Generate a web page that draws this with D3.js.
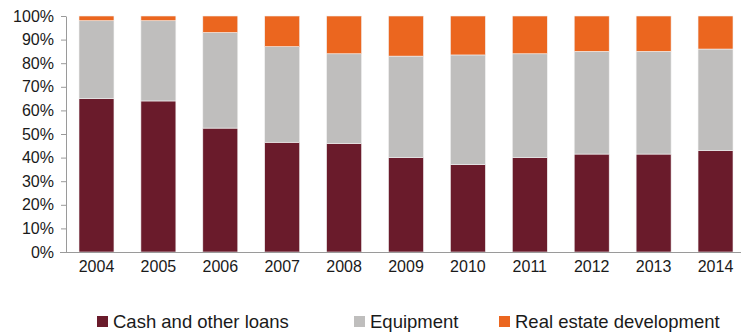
<!DOCTYPE html>
<html><head><meta charset="utf-8">
<script src="https://cdn.jsdelivr.net/npm/d3@7/dist/d3.min.js"></script>
<style>body{margin:0;background:#fff;} text{font-family:"Liberation Sans",Arial,sans-serif;fill:#1a1a1a;}</style>
</head><body><svg id="c" width="741" height="335"></svg>
<script>
const years = ["2004","2005","2006","2007","2008","2009","2010","2011","2012","2013","2014"];
const cash = [65, 64, 52.5, 46.5, 46, 40, 37, 40, 41.5, 41.5, 43];
const equipment = [33, 34, 40.5, 40.5, 38, 43, 46.5, 44, 43.5, 43.5, 43];
const realEstate = [2, 2, 7, 13, 16, 17, 16.5, 16, 15, 15, 14];
const seriesNames = ["Cash and other loans", "Equipment", "Real estate development"];
const colors = ["#6A1B2B", "#BFBEBD", "#EB661F"];
const yTicks = [0,10,20,30,40,50,60,70,80,90,100];

const rows = years.map((y,i)=>({year:y, s0:cash[i], s1:equipment[i], s2:realEstate[i]}));
const stack = d3.stack().keys(["s0","s1","s2"])(rows);

const svg = d3.select("#c");
const x = d3.scaleBand().domain(years).range([66,746]).paddingInner(0.435).paddingOuter(0.21);
const y = d3.scaleLinear().domain([0,100]).range([252,16]);

svg.append("g").selectAll("g").data(stack).join("g")
  .attr("fill",(d,i)=>colors[i])
  .selectAll("rect").data(d=>d).join("rect")
  .attr("x",d=>x(d.data.year)).attr("width",x.bandwidth())
  .attr("y",d=>y(d[1])).attr("height",d=>y(d[0])-y(d[1]))
  .attr("stroke","#f2f2f2").attr("stroke-width",0.6);

const ya = svg.append("g").attr("transform","translate(66,0)")
  .call(d3.axisLeft(y).tickValues(yTicks).tickFormat(d=>d+"%").tickSize(5).tickSizeOuter(0));
ya.select(".domain").attr("stroke","#9a9a9a");
ya.selectAll(".tick line").attr("stroke","#9a9a9a");
ya.selectAll("text").attr("x",-12).style("font-size","16px").attr("fill","#1a1a1a");

const xa = svg.append("g").attr("transform","translate(0,252)")
  .call(d3.axisBottom(x).tickSize(0).tickSizeOuter(0));
xa.select(".domain").attr("stroke","#9a9a9a").attr("d","M60,0.5H741");
xa.selectAll("text").attr("y",9).style("font-size","16px").attr("fill","#1a1a1a");

const legX = [97, 354, 499];
const lg = svg.append("g").selectAll("g").data(seriesNames).join("g")
  .attr("transform",(d,i)=>`translate(${legX[i]},322)`);
lg.append("rect").attr("x",0).attr("y",-6).attr("width",11).attr("height",11).attr("fill",(d,i)=>colors[i]);
lg.append("text").attr("x",16).attr("y",0).attr("dy","0.35em").style("font-size","18.5px").text(d=>d);
</script></body></html>
